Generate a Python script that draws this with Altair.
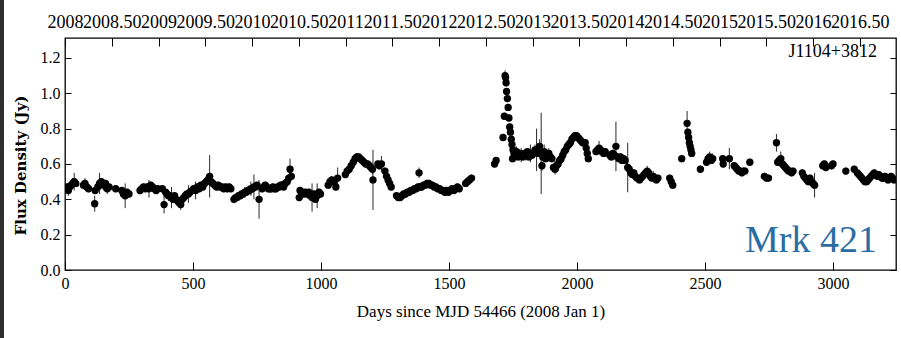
import json

import altair as alt
import pandas as pd

# OVRO 15 GHz light curve of Mrk 421 (J1104+3812)
days = [
    3, 8, 13, 18, 24, 30, 36, 42, 72, 78, 85, 92, 116, 118,
    128, 135, 142, 150, 158, 165, 172, 198, 222, 228, 235, 242, 250,
    293, 300, 307, 314, 321, 328, 335, 342, 349, 356, 362,
    380, 387, 393, 398, 404, 410, 416, 422, 428, 434, 440, 446, 452, 458, 464, 470, 476, 482, 488,
    497, 503, 510, 517, 524, 531, 538, 545, 552, 558, 565, 571,
    578, 585, 592, 599, 606, 613, 620, 627, 634, 641, 648,
    660, 666, 672, 678, 684, 690, 696, 702, 708, 714, 720, 726, 732, 738, 744, 750, 758,
    770, 776, 782, 788, 794, 800, 806, 812, 818, 824, 830, 836, 842, 848, 854, 860, 868, 874, 879, 884,
    915, 918, 925, 932, 938, 945, 952, 958, 965, 972, 978, 985, 992, 998,
    1028, 1035, 1042, 1050, 1058, 1065,
    1095, 1102, 1110, 1118, 1126, 1133, 1140, 1147, 1154, 1161, 1168, 1175, 1182, 1189, 1195, 1201, 1203,
    1222, 1228, 1236, 1250, 1256, 1262, 1268, 1274,
    1295, 1302, 1309, 1316, 1323, 1330, 1337, 1344, 1351, 1358, 1365, 1372, 1379, 1383, 1386, 1393,
    1400, 1407, 1414, 1421, 1428, 1435, 1442, 1449, 1456, 1463, 1470, 1477, 1484, 1491, 1498, 1505,
    1512, 1519, 1526, 1533, 1540, 1565, 1572, 1580, 1588,
    1678, 1684,
    1711, 1716, 1719, 1721, 1723, 1725, 1728, 1731, 1734, 1737, 1740, 1743, 1746, 1748, 1750, 1754,
    1758, 1764, 1770, 1776, 1782, 1788, 1794, 1800, 1806, 1812, 1818, 1824, 1830, 1836,
    1842, 1848, 1854, 1860, 1863, 1866, 1872, 1878, 1884, 1890, 1896, 1902,
    1908, 1914, 1920, 1926, 1932, 1938, 1944, 1950, 1956, 1962, 1968, 1974, 1980, 1986, 1992, 1998,
    2004, 2010, 2016, 2022,
    2032, 2036, 2040, 2044, 2074, 2080, 2086, 2092, 2098, 2104, 2110,
    2128, 2134, 2140, 2146, 2152, 2158, 2164, 2170, 2176, 2182, 2188,
    2198, 2204, 2210, 2216, 2222, 2228, 2234,
    2244, 2250, 2256, 2262, 2268, 2274, 2280, 2286, 2292, 2298, 2304, 2310, 2316,
    2362, 2368, 2374, 2409, 2430, 2433, 2436, 2439, 2442, 2445, 2448, 2482,
    2506, 2512, 2518, 2524, 2530, 2569, 2571, 2595,
    2614, 2620, 2626, 2632, 2638, 2644, 2650, 2656, 2675, 2732, 2740, 2748,
    2779, 2784, 2790, 2796, 2802, 2808, 2814, 2820, 2826, 2832, 2838, 2844,
    2880, 2886, 2892, 2898, 2904, 2910, 2916, 2922, 2928, 2960, 2966, 2972, 2994, 3000,
    3050, 3083, 3095, 3101, 3107, 3113, 3119, 3125, 3131, 3137, 3143, 3149, 3155, 3161, 3167,
    3173, 3179, 3185, 3191, 3197, 3203, 3209, 3215, 3221, 3227, 3233, 3239,
]

flux = [
    0.46, 0.47, 0.45, 0.47, 0.48, 0.49, 0.50, 0.49, 0.48, 0.49, 0.47, 0.46, 0.375, 0.45,
    0.47, 0.49, 0.50, 0.48, 0.49, 0.46, 0.47, 0.46, 0.45, 0.43, 0.42, 0.44, 0.43,
    0.45, 0.46, 0.47, 0.46, 0.47, 0.46, 0.48, 0.47, 0.46, 0.45, 0.46,
    0.46, 0.37, 0.44, 0.43, 0.42, 0.42, 0.41, 0.40, 0.42, 0.40, 0.39, 0.38, 0.37, 0.40, 0.41, 0.42, 0.43, 0.43, 0.44,
    0.45, 0.46, 0.45, 0.47, 0.46, 0.48, 0.47, 0.49, 0.50, 0.51, 0.53, 0.50,
    0.49, 0.48, 0.47, 0.48, 0.47, 0.47, 0.46, 0.47, 0.46, 0.47, 0.46,
    0.40, 0.41, 0.41, 0.42, 0.42, 0.43, 0.43, 0.44, 0.44, 0.45, 0.45, 0.46, 0.46, 0.47, 0.47, 0.48, 0.40,
    0.46, 0.47, 0.48, 0.47, 0.46, 0.46, 0.46, 0.47, 0.46, 0.46, 0.47, 0.47, 0.48, 0.48, 0.47, 0.49, 0.50, 0.52, 0.57, 0.53,
    0.41, 0.45, 0.44, 0.43, 0.44, 0.43, 0.44, 0.42, 0.41, 0.43, 0.40, 0.42, 0.44, 0.43,
    0.48, 0.50, 0.51, 0.50, 0.47, 0.52,
    0.54, 0.56, 0.57, 0.59, 0.61, 0.63, 0.64, 0.64, 0.63, 0.62, 0.61, 0.60, 0.60, 0.59, 0.58, 0.57, 0.51,
    0.60, 0.59, 0.60, 0.56, 0.53, 0.51, 0.49, 0.47,
    0.42, 0.41, 0.41, 0.42, 0.43, 0.43, 0.44, 0.44, 0.45, 0.45, 0.46, 0.46, 0.47, 0.55, 0.47, 0.47,
    0.48, 0.48, 0.49, 0.49, 0.48, 0.48, 0.47, 0.47, 0.46, 0.46, 0.45, 0.45, 0.44, 0.45, 0.44, 0.45,
    0.46, 0.45, 0.46, 0.47, 0.46, 0.49, 0.50, 0.51, 0.52,
    0.60, 0.62,
    0.75, 0.87, 1.10, 1.09, 1.06, 1.01, 0.97, 0.92, 0.86, 0.81, 0.78, 0.74, 0.71, 0.63, 0.68, 0.66,
    0.65, 0.67, 0.64, 0.66, 0.65, 0.64, 0.66, 0.65, 0.67, 0.64, 0.66, 0.65, 0.66, 0.68,
    0.68, 0.66, 0.70, 0.66, 0.59, 0.64, 0.67, 0.63, 0.65, 0.66, 0.64, 0.63,
    0.58, 0.57, 0.59, 0.60, 0.62, 0.63, 0.65, 0.67, 0.68, 0.70, 0.71, 0.72, 0.74, 0.75, 0.76, 0.76,
    0.75, 0.74, 0.73, 0.72,
    0.72, 0.69, 0.66, 0.63, 0.67, 0.68, 0.69, 0.68, 0.67, 0.66, 0.67,
    0.65, 0.64, 0.66, 0.65, 0.70, 0.64, 0.63, 0.64, 0.62, 0.63, 0.62,
    0.58, 0.57, 0.55, 0.54, 0.55, 0.53, 0.52,
    0.51, 0.52, 0.53, 0.54, 0.55, 0.56, 0.55, 0.53, 0.52, 0.53, 0.52, 0.51, 0.52,
    0.52, 0.50, 0.48, 0.63, 0.83, 0.78, 0.75, 0.72, 0.70, 0.68, 0.66, 0.57,
    0.61, 0.63, 0.64, 0.62, 0.63, 0.63, 0.60, 0.63,
    0.59, 0.58, 0.57, 0.56, 0.56, 0.55, 0.56, 0.56, 0.61, 0.53, 0.52, 0.52,
    0.72, 0.61, 0.62, 0.63, 0.60, 0.59, 0.58, 0.57, 0.56, 0.56, 0.55, 0.56,
    0.55, 0.53, 0.52, 0.51, 0.50, 0.52, 0.50, 0.49, 0.48, 0.59, 0.60, 0.58, 0.59, 0.60,
    0.56, 0.57, 0.55, 0.54, 0.53, 0.52, 0.51, 0.50, 0.50, 0.51, 0.52, 0.53, 0.54, 0.55, 0.54,
    0.53, 0.54, 0.53, 0.52, 0.52, 0.53, 0.52, 0.51, 0.52, 0.53, 0.52, 0.51,
]

flux_err = [
    0.02, 0.02, 0.03, 0.02, 0.02, 0.03, 0.05, 0.02, 0.02, 0.03, 0.02, 0.02, 0.045, 0.02,
    0.02, 0.06, 0.02, 0.03, 0.02, 0.03, 0.02, 0.02, 0.02, 0.02, 0.07, 0.02, 0.02,
    0.02, 0.02, 0.02, 0.02, 0.02, 0.05, 0.02, 0.02, 0.02, 0.02, 0.02,
    0.02, 0.05, 0.02, 0.02, 0.03, 0.02, 0.06, 0.02, 0.02, 0.03, 0.02, 0.02, 0.03, 0.02, 0.02, 0.02, 0.02, 0.05, 0.02,
    0.02, 0.02, 0.05, 0.02, 0.02, 0.02, 0.02, 0.02, 0.03, 0.02, 0.12, 0.02,
    0.02, 0.02, 0.02, 0.02, 0.02, 0.02, 0.02, 0.02, 0.02, 0.02, 0.02,
    0.02, 0.02, 0.02, 0.02, 0.02, 0.02, 0.02, 0.03, 0.02, 0.02, 0.02, 0.04, 0.02, 0.07, 0.02, 0.02, 0.11,
    0.02, 0.02, 0.02, 0.02, 0.02, 0.02, 0.02, 0.02, 0.02, 0.02, 0.02, 0.02, 0.02, 0.02, 0.02, 0.02, 0.02, 0.02, 0.06, 0.02,
    0.02, 0.02, 0.02, 0.02, 0.02, 0.02, 0.02, 0.02, 0.08, 0.02, 0.02, 0.07, 0.02, 0.02,
    0.02, 0.02, 0.02, 0.02, 0.02, 0.06,
    0.02, 0.02, 0.02, 0.02, 0.02, 0.02, 0.02, 0.02, 0.02, 0.02, 0.02, 0.02, 0.02, 0.02, 0.02, 0.03, 0.17,
    0.02, 0.02, 0.045, 0.02, 0.02, 0.02, 0.02, 0.02,
    0.02, 0.02, 0.02, 0.02, 0.02, 0.02, 0.02, 0.02, 0.02, 0.02, 0.02, 0.02, 0.02, 0.03, 0.02, 0.02,
    0.02, 0.02, 0.02, 0.02, 0.02, 0.02, 0.02, 0.02, 0.02, 0.02, 0.02, 0.02, 0.02, 0.02, 0.02, 0.02,
    0.02, 0.02, 0.02, 0.02, 0.02, 0.02, 0.02, 0.02, 0.02,
    0.02, 0.02,
    0.02, 0.02, 0.03, 0.02, 0.02, 0.02, 0.02, 0.02, 0.02, 0.02, 0.02, 0.02, 0.02, 0.02, 0.02, 0.02,
    0.02, 0.03, 0.02, 0.02, 0.04, 0.02, 0.02, 0.03, 0.02, 0.02, 0.05, 0.02, 0.02, 0.03,
    0.12, 0.02, 0.04, 0.23, 0.03, 0.02, 0.04, 0.02, 0.02, 0.03, 0.02, 0.02,
    0.02, 0.03, 0.02, 0.04, 0.02, 0.02, 0.04, 0.02, 0.02, 0.03, 0.02, 0.02, 0.02, 0.02, 0.02, 0.02,
    0.02, 0.02, 0.02, 0.02,
    0.02, 0.02, 0.02, 0.02, 0.02, 0.02, 0.04, 0.02, 0.02, 0.02, 0.02,
    0.02, 0.02, 0.02, 0.02, 0.14, 0.02, 0.02, 0.02, 0.02, 0.02, 0.02,
    0.14, 0.02, 0.02, 0.02, 0.02, 0.02, 0.02,
    0.02, 0.02, 0.02, 0.02, 0.02, 0.03, 0.02, 0.02, 0.02, 0.03, 0.02, 0.02, 0.02,
    0.02, 0.02, 0.02, 0.02, 0.07, 0.02, 0.02, 0.02, 0.02, 0.02, 0.02, 0.02,
    0.02, 0.02, 0.03, 0.02, 0.03, 0.02, 0.02, 0.06,
    0.02, 0.02, 0.02, 0.02, 0.02, 0.02, 0.02, 0.02, 0.02, 0.02, 0.02, 0.02,
    0.05, 0.02, 0.02, 0.04, 0.02, 0.02, 0.02, 0.02, 0.02, 0.02, 0.02, 0.02,
    0.02, 0.02, 0.02, 0.02, 0.02, 0.02, 0.02, 0.02, 0.07, 0.02, 0.02, 0.02, 0.02, 0.02,
    0.02, 0.02, 0.02, 0.02, 0.02, 0.02, 0.02, 0.02, 0.02, 0.02, 0.02, 0.02, 0.02, 0.02, 0.02,
    0.02, 0.02, 0.02, 0.02, 0.02, 0.02, 0.02, 0.02, 0.02, 0.02, 0.02, 0.02,
]

# axis ticks and labels
day_ticks = [0, 500, 1000, 1500, 2000, 2500, 3000]
flux_ticks = [0.0, 0.2, 0.4, 0.6, 0.8, 1.0, 1.2]
year_ticks = [2008.0, 2008.5, 2009.0, 2009.5, 2010.0, 2010.5, 2011.0, 2011.5, 2012.0,
              2012.5, 2013.0, 2013.5, 2014.0, 2014.5, 2015.0, 2015.5, 2016.0, 2016.5]
year_labels = ["2008", "2008.50", "2009", "2009.50", "2010", "2010.50", "2011", "2011.50",
               "2012", "2012.50", "2013", "2013.50", "2014", "2014.50", "2015", "2015.50",
               "2016", "2016.50"]

source_id = "J1104+3812"
source_name = "Mrk 421"

DAY_MAX = 3246
FLUX_MAX = 1.313
W, H = 831, 232
SERIF = "Liberation Serif"

df = pd.DataFrame({"day": days, "flux": flux, "err": flux_err})
df["lo"] = df["flux"] - df["err"]
df["hi"] = df["flux"] + df["err"]

year_days = [(y - 2008.0) * 365.25 for y in year_ticks]
years_df = pd.DataFrame({"day": year_days})
fticks_df = pd.DataFrame({"v": flux_ticks})

xs = alt.Scale(domain=[0, DAY_MAX], nice=False, zero=False)
ys = alt.Scale(domain=[0, FLUX_MAX], nice=False, zero=False)

year_label_expr = json.dumps(year_labels) + "[round(datum.value / 182.625)]"

# error bars, carrying the labelled bottom and left axes
bars = alt.Chart(df).mark_rule(color="#2a2a2a", strokeWidth=1, clip=True).encode(
    x=alt.X("day:Q", scale=xs, axis=alt.Axis(
        orient="bottom", values=day_ticks, format="d", ticks=False, tickSize=0,
        domain=False, grid=False, labelPadding=5, labelFlush=False, labelFontSize=16,
        title="Days since MJD 54466 (2008 Jan 1)", titleFontSize=17,
        titleFontWeight="normal", titleY=33, titleBaseline="top")),
    y=alt.Y("lo:Q", scale=ys, axis=alt.Axis(
        orient="left", values=flux_ticks, format=".1f", ticks=False, tickSize=0,
        domain=False, grid=False, labelPadding=5, labelFlush=False, labelFontSize=16,
        title="Flux Density (Jy)", titleFont="DejaVu Serif", titleFontWeight="bold",
        titleFontSize=15, titleAngle=270, titleX=-45, titleY=127,
        titleAlign="center", titleBaseline="middle")),
    y2="hi:Q",
)

# data points, carrying inward ticks on the bottom and left edges
points = alt.Chart(df).mark_circle(size=54, color="black", opacity=1, clip=True).encode(
    x=alt.X("day:Q", scale=xs, axis=alt.Axis(
        orient="top", offset=-H, values=day_ticks, labels=False, tickSize=8,
        domain=False, grid=False, title=None)),
    y=alt.Y("flux:Q", scale=ys, axis=alt.Axis(
        orient="right", offset=-W, values=flux_ticks, labels=False, tickSize=6,
        domain=False, grid=False, title=None)),
)

# calendar-year axis along the top
top_labels = alt.Chart(years_df).mark_point(opacity=0).encode(
    x=alt.X("day:Q", scale=xs, axis=alt.Axis(
        orient="top", values=year_days, labelExpr=year_label_expr, ticks=False,
        tickSize=0, domain=False, grid=False, labelPadding=7, labelFontSize=18,
        labelOverlap=False, labelFlush=False, title=None)),
)
top_ticks = alt.Chart(years_df).mark_point(opacity=0).encode(
    x=alt.X("day:Q", scale=xs, axis=alt.Axis(
        orient="bottom", offset=-H, values=year_days, labels=False, tickSize=8,
        domain=False, grid=False, title=None)),
)

# inward ticks on the right edge
right_ticks = alt.Chart(fticks_df).mark_point(opacity=0).encode(
    y=alt.Y("v:Q", scale=ys, axis=alt.Axis(
        orient="left", offset=-W, values=flux_ticks, labels=False, tickSize=6,
        domain=False, grid=False, title=None)),
)

id_text = alt.Chart(pd.DataFrame({"t": [source_id]})).mark_text(
    align="right", baseline="alphabetic", font=SERIF, fontSize=18, color="black"
).encode(x=alt.value(812), y=alt.value(19), text="t:N")

name_text = alt.Chart(pd.DataFrame({"t": [source_name]})).mark_text(
    align="right", baseline="alphabetic", font=SERIF, fontSize=38, color="#2b6ca3"
).encode(x=alt.value(812), y=alt.value(214), text="t:N")

# dark strip along the left edge of the figure
edge = alt.Chart(pd.DataFrame({"k": [0]})).mark_rect(color="#2e2e2e").encode(
    x=alt.value(-65), x2=alt.value(-61), y=alt.value(-38), y2=alt.value(300)
)

chart = (
    alt.layer(edge, bars, points, top_labels, top_ticks, right_ticks, id_text, name_text)
    .resolve_axis(x="independent", y="independent")
    .properties(
        width=W, height=H,
        autosize=alt.AutoSizeParams(type="none"),
        padding={"left": 65, "top": 38, "right": 5, "bottom": 68},
        background="white",
    )
    .configure_view(stroke="black", strokeWidth=1.3)
    .configure_axis(labelColor="black", titleColor="black", tickColor="black",
                    tickWidth=1, labelFont=SERIF, titleFont=SERIF)
    .configure_text(font=SERIF)
)

chart.save("out.html", embed_options={"renderer": "svg", "actions": False})
